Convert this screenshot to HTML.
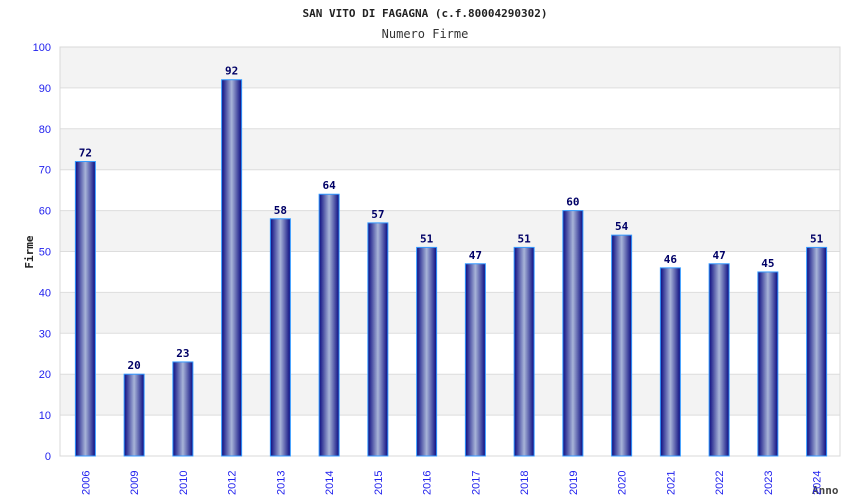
<!DOCTYPE html>
<html><head><meta charset="utf-8"><style>
body{margin:0;background:#fff;}
svg{display:block;font-family:"DejaVu Sans Mono","Liberation Mono",monospace;}
</style></head><body>
<svg id="chart" width="850" height="500">
<defs>
<linearGradient id="bg" x1="0" x2="1" y1="0" y2="0">
<stop offset="0" stop-color="#0a0a80"/><stop offset="0.5" stop-color="#a8b4d8"/><stop offset="1" stop-color="#0a0a80"/>
</linearGradient>
</defs>
<text x="425" y="17" text-anchor="middle" font-size="11" font-weight="bold" fill="#222">SAN VITO DI FAGAGNA (c.f.80004290302)</text>
<text x="425" y="38" text-anchor="middle" font-size="12" fill="#333">Numero Firme</text>
<text transform="translate(33,252) rotate(-90)" text-anchor="middle" font-size="11" font-weight="bold" fill="#222">Firme</text>
<text x="812" y="494" font-size="11" font-weight="bold" fill="#444">Anno</text>
<g id="grid"></g><g id="bars"></g><g id="labels"></g>
</svg>
<script>
const categories=["2006","2009","2010","2012","2013","2014","2015","2016","2017","2018","2019","2020","2021","2022","2023","2024"];
const values=[72,20,23,92,58,64,57,51,47,51,60,54,46,47,45,51];
const yTicks=[0,10,20,30,40,50,60,70,80,90,100];
const NS="http://www.w3.org/2000/svg";
const L=60,R=840,T=47,B=456,yMax=100;
const y=v=>B-(v/yMax)*(B-T);
const slot=(R-L)/categories.length;
const x=i=>L+1+slot*(i+0.5);
function mk(t,a,p){const e=document.createElementNS(NS,t);for(const k in a)e.setAttribute(k,a[k]);p.appendChild(e);return e;}
const grid=document.getElementById('grid'),bars=document.getElementById('bars'),labels=document.getElementById('labels');
for(let i=0;i<yTicks.length-1;i++){
 if(i%2===1){const b=mk('rect',{x:L,y:y(yTicks[i+1]),width:R-L,height:y(yTicks[i])-y(yTicks[i+1]),fill:'#f3f3f3'},grid);
 
 }
}
yTicks.forEach(t=>{
 const l=mk('line',{x1:L,x2:R,y1:y(t),y2:y(t),stroke:'#dddddd','stroke-width':1},grid);
 
 
 const tx=mk('text',{x:51,y:y(t)+4,'text-anchor':'end','font-size':11,fill:'#2222ee','font-family':'"Liberation Sans",sans-serif'},labels);
 tx.textContent=t;
 
 
});
const ax=mk('rect',{x:L,y:T,width:R-L,height:B-T,fill:'none',stroke:'#d8d8d8'},grid);


categories.forEach((c,i)=>{
 const cx=x(i),w=20;
 const r=mk('rect',{x:cx-w/2,y:y(values[i]),width:w,height:B-y(values[i]),fill:'url(#bg)',stroke:'#3399ff','stroke-width':1},bars);
 
 
 const v=mk('text',{x:cx,y:y(values[i])-5,'text-anchor':'middle','font-size':11,'font-weight':'bold',fill:'#000066'},labels);
 v.textContent=values[i];
 
 
 const xt=mk('text',{transform:`translate(${cx+4},${B+39}) rotate(-90)`,'font-size':11,fill:'#2222ee','font-family':'"Liberation Sans",sans-serif'},labels);
 xt.textContent=c;
 
 
});
</script>
</body></html>
